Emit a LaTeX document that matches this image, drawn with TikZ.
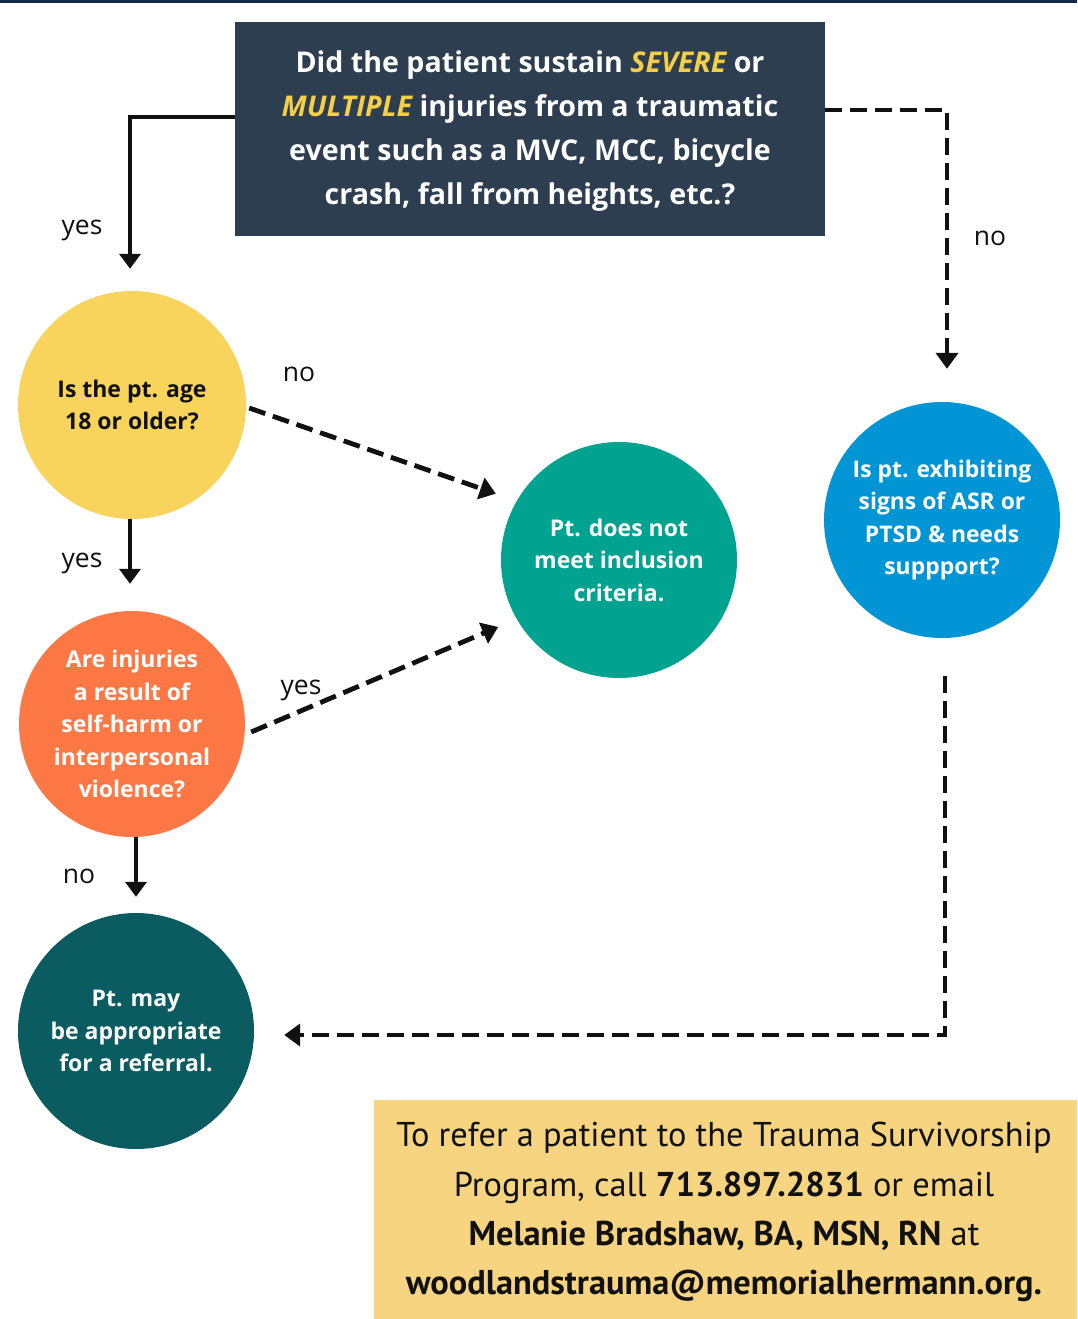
\documentclass[tikz,border=0pt]{standalone}
\usepackage{fontspec}
\setmainfont{Open Sans}
\newfontfamily\ptsans{PT Sans}
\usetikzlibrary{arrows.meta}
\definecolor{navy}{HTML}{13294B}
\definecolor{boxdark}{HTML}{2C3E4F}
\definecolor{hiyellow}{HTML}{F4CE47}
\definecolor{cyellow}{HTML}{F9D45C}
\definecolor{corange}{HTML}{FD7845}
\definecolor{cdteal}{HTML}{0A5C61}
\definecolor{cteal}{HTML}{00A390}
\definecolor{cblue}{HTML}{0295D5}
\definecolor{cnote}{HTML}{F6D480}
\definecolor{ink}{HTML}{111111}
\tikzset{
  topbox/.style={fill=boxdark, draw=none, minimum width=590pt, minimum height=214pt, inner sep=0pt,
    text=white, align=center, font=\fontsize{28.6}{44}\selectfont\bfseries},
  qcircle/.style={circle, draw=none, inner sep=0pt, align=center, font=\fontsize{23}{32.5}\selectfont\bfseries},
  notebox/.style={fill=cnote, draw=none, inner sep=0pt, minimum width=703pt, minimum height=219pt,
    align=center, text=ink, font=\ptsans\fontsize{34.4}{49.2}\selectfont},
  lbl/.style={font=\fontsize{26.5}{30}\selectfont, text=ink, inner sep=0pt},
  solidarrow/.style={draw=ink, line width=4.2pt, -{Triangle[width=21pt,length=15pt]}},
  dasharrow/.style={draw=ink, line width=4.8pt, dash pattern=on 17pt off 8pt, -{Triangle[width=22pt,length=16pt]}},
}
\begin{document}
\begin{tikzpicture}[x=1pt,y=-1pt]
\useasboundingbox (0,0) rectangle (1077,1319);
\fill[white] (0,0) rectangle (1077,1319);
\fill[navy] (0,0) rectangle (1077,3.5);

\node[topbox] (q1) at (530,129) {};
\node[text=white, align=center, font=\fontsize{28.6}{44}\selectfont\bfseries, inner sep=0pt] (q1t) at (530,131) {Did the patient sustain \textcolor{hiyellow}{\itshape SEVERE} or\\
\textcolor{hiyellow}{\itshape MULTIPLE} injuries from a traumatic\\
event such as a MVC, MCC, bicycle\\
crash, fall from heights, etc.?};

\node[qcircle, fill=cyellow, minimum size=228pt, text=ink] (age) at (132,405) {Is the pt. age\\18 or older?};
\node[qcircle, fill=corange, minimum size=226pt, text=white] (inj) at (132,724) {Are injuries\\a result of\\self-harm or\\interpersonal\\violence?};
\node[qcircle, fill=cdteal, minimum size=236pt, text=white] (ref) at (136,1031) {Pt. may\\be appropriate\\for a referral.};
\node[qcircle, fill=cteal, minimum size=236pt, text=white] (incl) at (619,560) {Pt. does not\\meet inclusion\\criteria.};
\node[qcircle, fill=cblue, minimum size=236pt, text=white, font=\fontsize{22.9}{32.5}\selectfont\bfseries] (asr) at (942,520) {Is pt. exhibiting\\signs of ASR or\\PTSD \& needs\\suppport?};

\node[notebox] (note) at (725.5,1209.5) {};
\node[text=ink, align=center, font=\ptsans\fontsize{34.4}{49.2}\selectfont, inner sep=0pt] (notet) at (724,1212) {To refer a patient to the Trauma Survivorship\\
Program, call \textbf{713.897.2831} or email\\
\textbf{Melanie Bradshaw, BA, MSN, RN} at\\
\textbf{woodlandstrauma@memorialhermann.org.}};

% connectors
\draw[solidarrow, shorten >=22pt] ([yshift=12pt]q1.west) -| ([xshift=-2pt]age.north);
\draw[dasharrow, shorten >=33pt] ([yshift=19pt]q1.east) -| ([xshift=5pt]asr.north);
\draw[dasharrow, shorten >=22pt] ([yshift=-3pt,xshift=3pt]age.east) -- (incl.150);
\draw[solidarrow, shorten >=27pt] ([xshift=-2pt]age.south) -- ([xshift=-2pt]inj.north);
\draw[dasharrow, shorten >=20pt] ([yshift=-8pt,xshift=6pt]inj.east) -- (incl.210);
\draw[solidarrow, shorten >=16pt] ([xshift=4pt]inj.south) -- (ref.north);
\draw[dasharrow, shorten <=38pt, shorten >=30pt] ([xshift=3pt]asr.south) |- ([yshift=-4pt]ref.east);

% labels
\node[lbl] (l1) at (82,230) {yes};
\node[lbl] (l2) at (990,238) {no};
\node[lbl] (l3) at (299,374) {no};
\node[lbl] (l4) at (82,563) {yes};
\node[lbl] (l5) at (301,690) {yes};
\node[lbl] (l6) at (79,876) {no};
\end{tikzpicture}
\end{document}
